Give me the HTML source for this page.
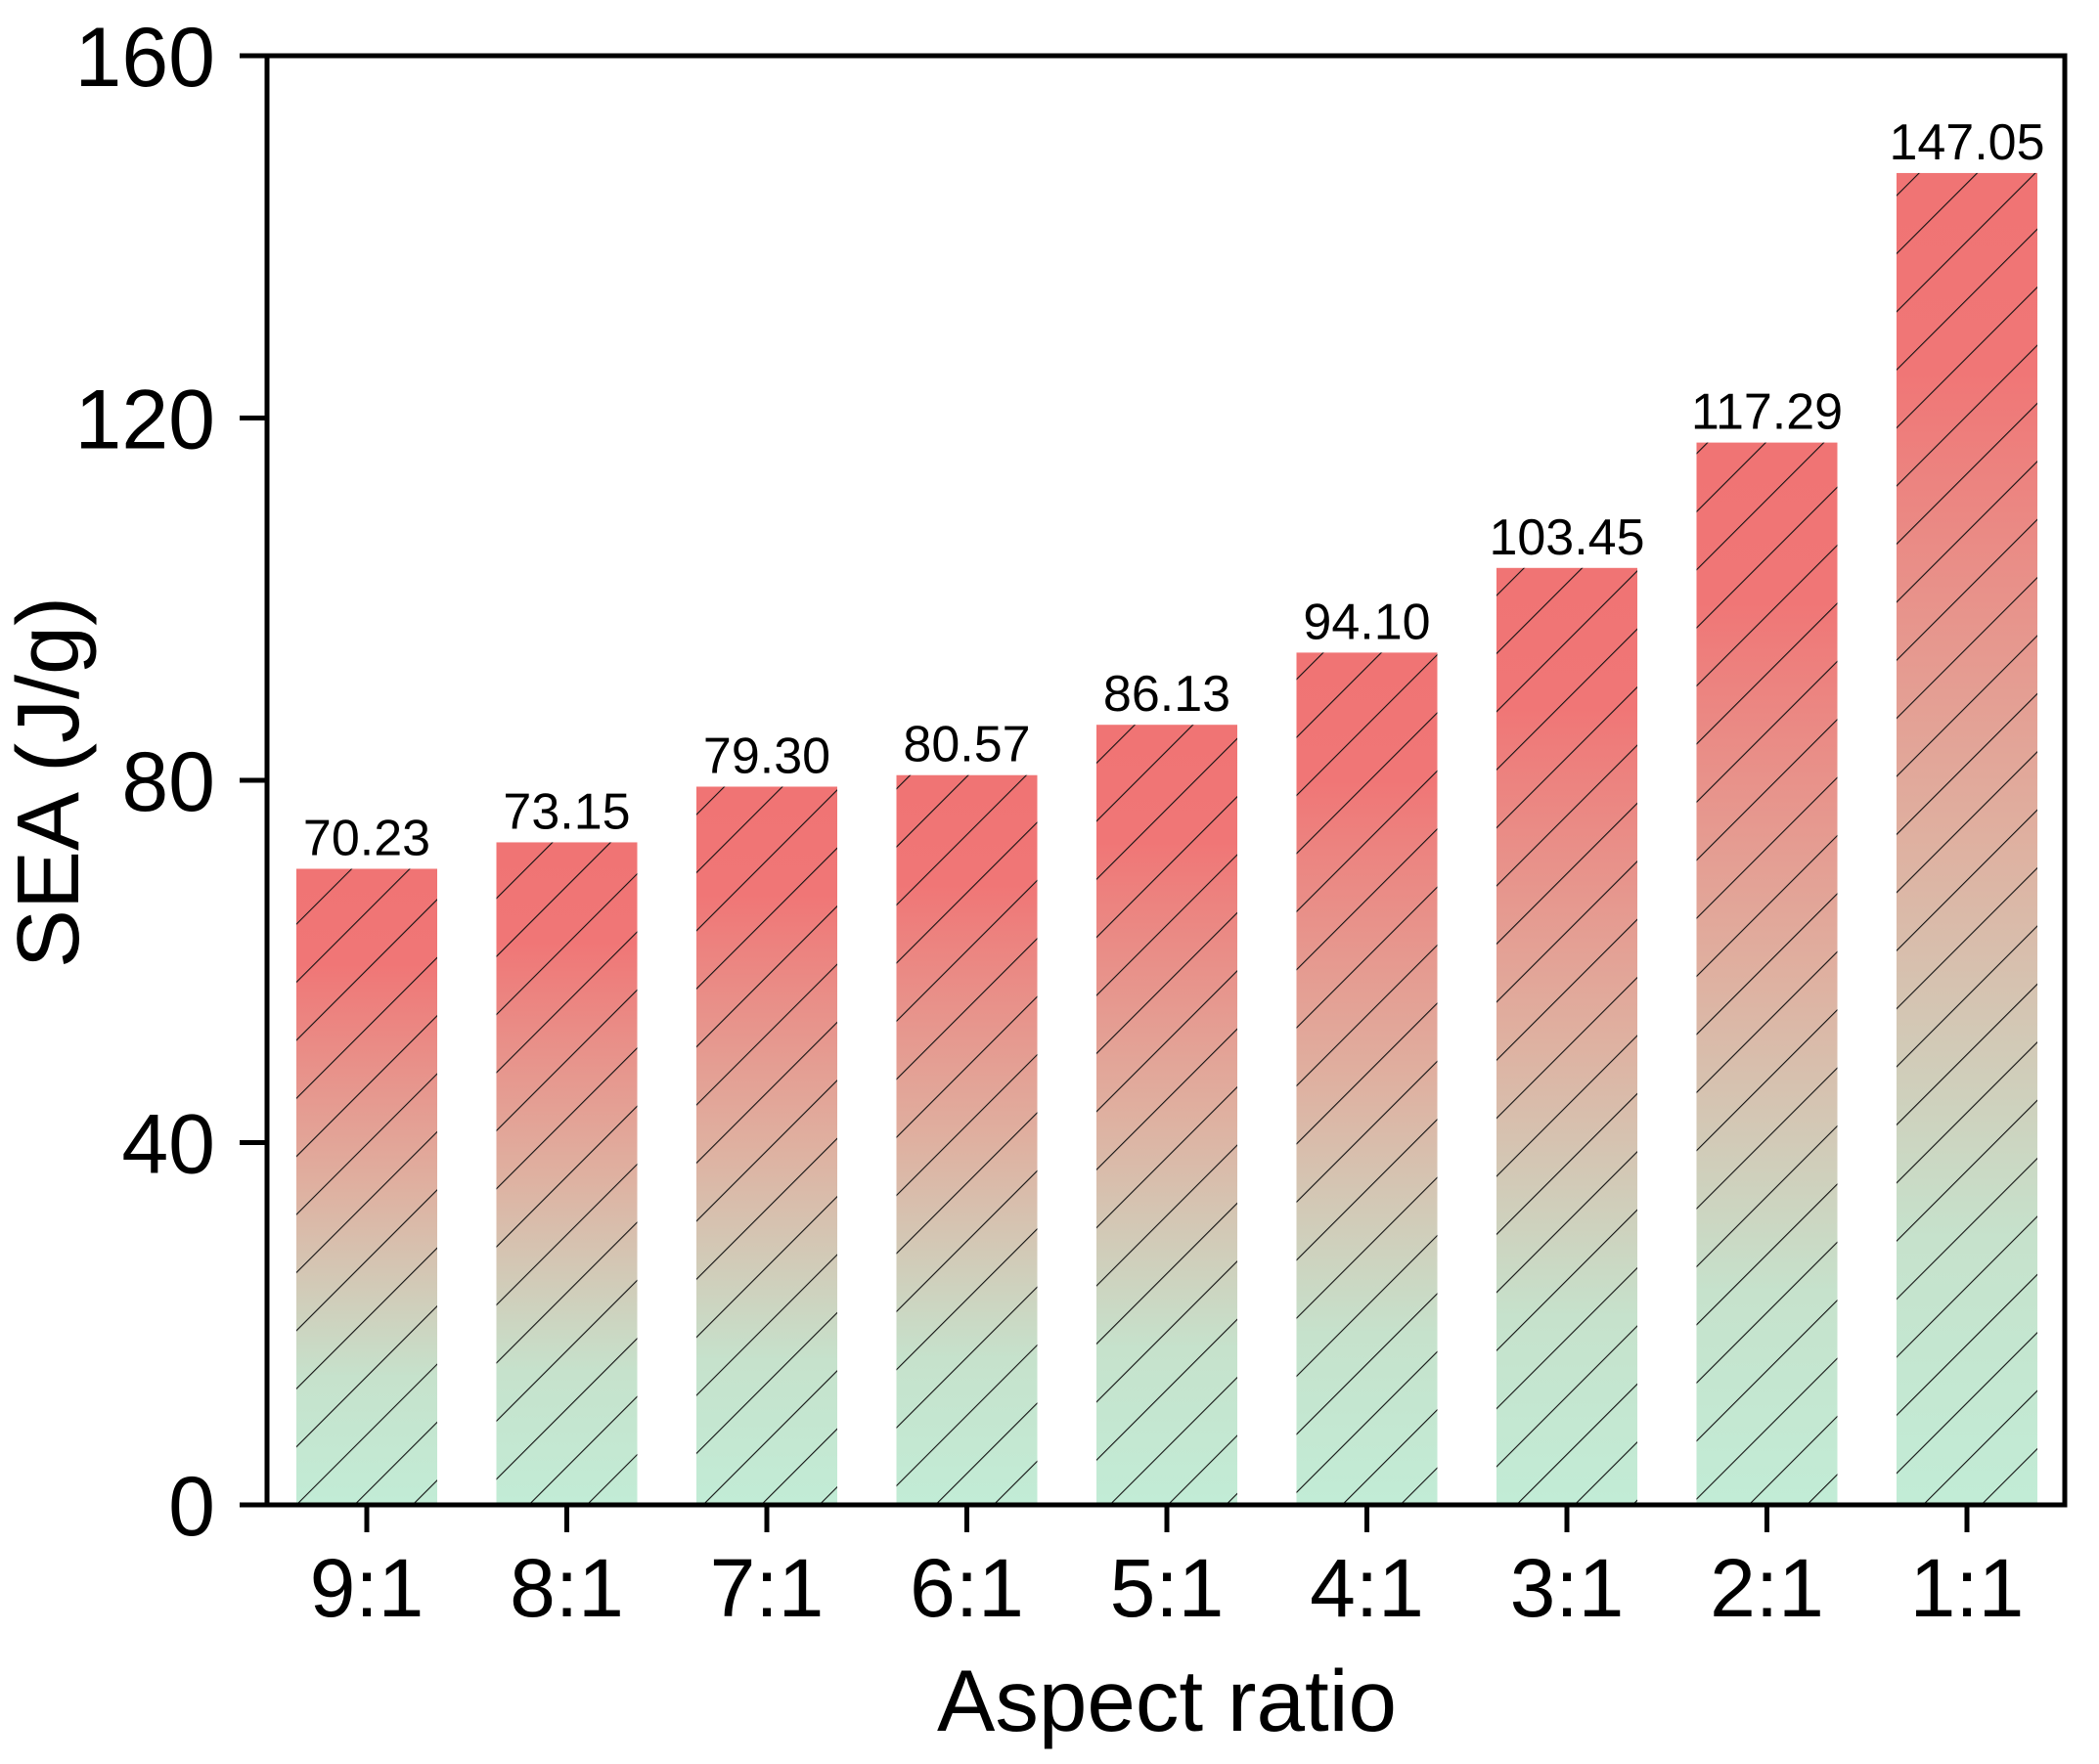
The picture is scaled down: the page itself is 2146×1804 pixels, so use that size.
<!DOCTYPE html>
<html><head><meta charset="utf-8"><style>
html,body{margin:0;padding:0;background:#fff;}
svg{display:block;font-family:"Liberation Sans",Arial,sans-serif;}
</style></head><body>
<svg id="chart" width="2146" height="1804" viewBox="0 0 2146 1804">
<defs>
<linearGradient id="barGrad" x1="0" y1="0" x2="0" y2="1">
<stop offset="0" stop-color="#f07474"/>
<stop offset="0.15" stop-color="#f07676"/>
<stop offset="0.5" stop-color="#dfb0a0"/>
<stop offset="0.8" stop-color="#c6e2cc"/>
<stop offset="1" stop-color="#c2ecd6"/>
</linearGradient>
<pattern id="hatch" patternUnits="userSpaceOnUse" width="42" height="42" patternTransform="rotate(45)">
<line x1="0" y1="0" x2="0" y2="42" stroke="#111" stroke-width="2.2"/>
</pattern>
</defs>
<g id="bars"></g>
<g id="axes"></g>
</svg>
<script>
const categories = ["9:1","8:1","7:1","6:1","5:1","4:1","3:1","2:1","1:1"];
const seaValues = [70.23,73.15,79.30,80.57,86.13,94.10,103.45,117.29,147.05];
const valueLabels = ["70.23","73.15","79.30","80.57","86.13","94.10","103.45","117.29","147.05"];
const yTicks = [0,40,80,120,160];

const NS="http://www.w3.org/2000/svg";
const L=273,R=2111,T=57,B=1539;
const yMin=0,yMax=160;
const firstCenter=375,step=204.5,barW=144;
function y(v){return B-(v-yMin)/(yMax-yMin)*(B-T);}
function x(i){return firstCenter+i*step;}
function mk(tag,attrs,parent){const e=document.createElementNS(NS,tag);for(const k in attrs)e.setAttribute(k,attrs[k]);parent.appendChild(e);return e;}
const bars=document.getElementById('bars');
const axes=document.getElementById('axes');

seaValues.forEach((v,i)=>{
  const g=mk('g',{},bars);
  
  
  const x0=x(i)-barW/2, y0=y(v), h=B-y0;
  mk('rect',{x:x0,y:y0,width:barW,height:h,fill:'url(#barGrad)'},g);
  mk('rect',{x:x0,y:y0,width:barW,height:h,fill:'url(#hatch)'},g);
  const t=mk('text',{x:x(i),y:y0-14,'text-anchor':'middle','font-size':'52'},bars);
  t.textContent=valueLabels[i];
  
  
});

const frame=mk('rect',{x:L,y:T,width:R-L,height:B-T,fill:'none',stroke:'#000','stroke-width':'5'},axes);



yTicks.forEach(v=>{
  const ln=mk('line',{x1:L-28,x2:L,y1:y(v),y2:y(v),stroke:'#000','stroke-width':'5'},axes);
  
  
  const t=mk('text',{x:220,y:y(v)+31,'text-anchor':'end','font-size':'86'},axes);
  t.textContent=String(v);
  
  
});
categories.forEach((c,i)=>{
  const ln=mk('line',{x1:x(i),x2:x(i),y1:B,y2:B+28,stroke:'#000','stroke-width':'5'},axes);
  
  
  const t=mk('text',{x:x(i),y:1653,'text-anchor':'middle','font-size':'84'},axes);
  t.textContent=c;
  
  
});
const xt=mk('text',{x:1193,y:1770,'text-anchor':'middle','font-size':'89'},axes);
xt.textContent='Aspect ratio';


const yt=mk('text',{x:0,y:0,'text-anchor':'middle','font-size':'90',transform:'translate(80,800) rotate(-90)'},axes);
yt.textContent='SEA (J/g)';


</script>
</body></html>
